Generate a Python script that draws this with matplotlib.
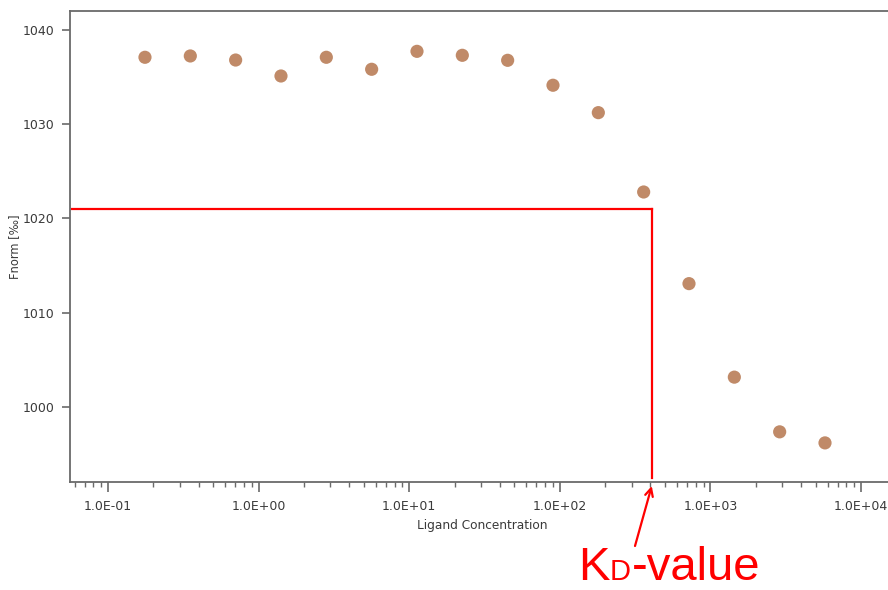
import numpy as np
import matplotlib
matplotlib.use("Agg")
import matplotlib.pyplot as plt
from matplotlib.ticker import LogLocator, FuncFormatter, NullFormatter

# Data
concentration = [0.176 * 2 ** k for k in range(16)]
fnorm = [1037.06, 1037.20, 1036.77, 1035.08, 1037.06, 1035.79, 1037.69, 1037.27,
         1036.74, 1034.10, 1031.20, 1022.80, 1013.10, 1003.20, 997.41, 996.24]
kd_value = 408.0
kd_fnorm = 1021.0
x_label = "Ligand Concentration"
y_label = "Fnorm [‰]"
y_ticks = [1000, 1010, 1020, 1030, 1040]

W, H = 888, 590
fig = plt.figure(figsize=(W / 100, H / 100), dpi=100)
ax = fig.add_axes([70 / W, (H - 482) / H, (930 - 70) / W, (482 - 11) / H])

ax.set_xscale("log")
ax.set_xlim(10 ** (-1 - 38 / 150.6), 10 ** (4 + 69 / 150.6))
ax.set_ylim(992.1, 1041.96)

ax.scatter(concentration, fnorm, s=90, color="#c08a68", edgecolors="none", zorder=3)

# KD guide lines
ax.plot([10 ** (-1 - 36 / 150.6), kd_value], [kd_fnorm, kd_fnorm], color="red", lw=1.6, zorder=2)
ax.plot([kd_value, kd_value], [kd_fnorm, 992.5], color="red", lw=1.6, zorder=2)

# Axis styling
for side in ["left", "bottom", "top", "right"]:
    ax.spines[side].set_color("#6a6a6a")
    ax.spines[side].set_linewidth(1.3)

ax.xaxis.set_major_locator(LogLocator(base=10))
ax.xaxis.set_minor_locator(LogLocator(base=10, subs=np.arange(2, 10)))
ax.xaxis.set_minor_formatter(NullFormatter())
ax.xaxis.set_major_formatter(FuncFormatter(lambda v, p: "{:.1E}".format(v)))
ax.set_yticks(y_ticks)
ax.tick_params(axis="both", which="major", direction="out", length=6, width=1.2,
               colors="#6a6a6a", labelcolor="#3a3a3a", labelsize=9)
ax.tick_params(axis="x", which="major", length=7, pad=6)
ax.tick_params(axis="x", which="minor", direction="out", length=3.5, width=1.0, colors="#6a6a6a")
ax.tick_params(axis="y", which="major", pad=5)

ax.set_xlabel(x_label, fontsize=8.7, color="#3a3a3a")
ax.xaxis.set_label_coords((482 - 70) / 860, -(525 - 482) / 471, transform=ax.transAxes)
ax.xaxis.label.set_va("center")
ax.set_ylabel(y_label, fontsize=8.3, color="#3a3a3a", labelpad=1)

# KD annotation
ax.annotate("", xy=(kd_value, H - 486), xycoords=("data", "figure pixels"),
            xytext=(635, H - 546), textcoords="figure pixels",
            arrowprops=dict(arrowstyle="->", color="red", lw=1.6,
                            mutation_scale=14, shrinkA=0, shrinkB=0),
            annotation_clip=False)

renderer = fig.canvas.get_renderer()
x_px = 578.0
base_y = (H - 580) / H
for piece, size in [("K", 34), ("D", 21), ("-value", 34)]:
    t = fig.text(x_px / W, base_y, piece, color="red", fontsize=size,
                 family="Liberation Sans", ha="left", va="baseline")
    bb = t.get_window_extent(renderer=renderer)
    x_px = bb.x1 + 0.5

fig.savefig("out.png", dpi=100)
